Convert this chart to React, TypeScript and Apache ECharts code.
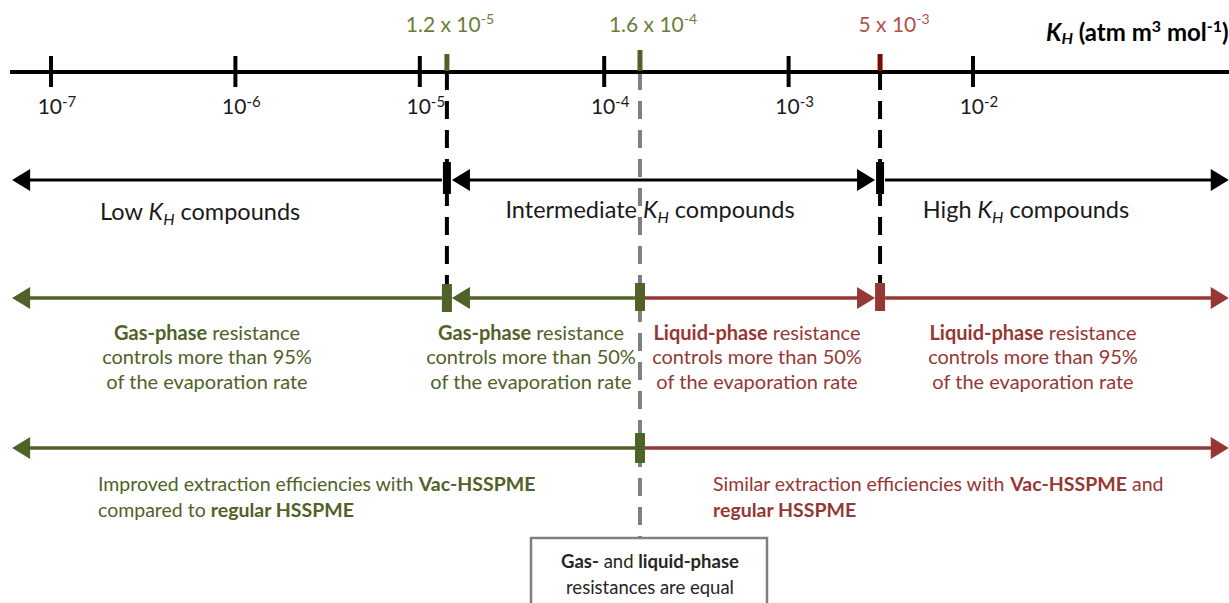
import { useEffect, useRef } from 'react';
import * as echarts from 'echarts';

// ---------- data ----------
// Decades of the Henry's law constant axis, K_H (atm m3 mol-1), as log10 exponents
const DECADE_EXPONENTS = [-7, -6, -5, -4, -3, -2];
// Threshold K_H values and their labels
const THRESHOLD_VALUES = [1.2e-5, 1.6e-4, 5e-3];
const THRESHOLD_LABELS = ['1.2 x 10{sup|-5}', '1.6 x 10{sup|-4}', '5 x 10{sup|-3}'];
// where each threshold is drawn on the (schematic) log10 axis of the original figure
const THRESHOLD_DRAWN_AT = [-4.853, -3.806, -2.504];
// extent of the drawn axis / arrows in log10 units
const VIEW_RANGE = [-7.2766, -0.6117];
const AXIS_LINE_START = -7.222;
const ARROW_LEFT_END = -7.211;
const ARROW_RIGHT_END = -0.613;

// ---------- styling ----------
const FONT = 'Lato, "Noto Sans", sans-serif';
const GREEN = '#4f6228';
const RED = '#953735';
const DARK_RED = '#7a0a0a';
const GRAY = '#7f7f7f';
const INK = '#1a1a1a';
const LABEL_GREEN = '#6b7c3a';
const LABEL_RED = '#b4504b';
const W = 1229;
const H = 603;
const ROW = { axis: 72, kh: 180, resistance: 298, extraction: 448 };
const BOX_TOP = 538;

const [T1, T2, T3] = THRESHOLD_DRAWN_AT;

type Seg = { from: number; to: number; y: number; color: string; headStart: boolean; headEnd: boolean; lw: number };
const SEGMENTS: Seg[] = [
  { from: ARROW_LEFT_END, to: T1, y: ROW.kh, color: '#000', headStart: true, headEnd: false, lw: 3 },
  { from: T1, to: T3, y: ROW.kh, color: '#000', headStart: true, headEnd: true, lw: 3 },
  { from: T3, to: ARROW_RIGHT_END, y: ROW.kh, color: '#000', headStart: false, headEnd: true, lw: 3 },
  { from: ARROW_LEFT_END, to: T1, y: ROW.resistance, color: GREEN, headStart: true, headEnd: false, lw: 3.5 },
  { from: T1, to: T2, y: ROW.resistance, color: GREEN, headStart: true, headEnd: false, lw: 3.5 },
  { from: T2, to: T3, y: ROW.resistance, color: RED, headStart: false, headEnd: true, lw: 3.5 },
  { from: T3, to: ARROW_RIGHT_END, y: ROW.resistance, color: RED, headStart: false, headEnd: true, lw: 3.5 },
  { from: ARROW_LEFT_END, to: T2, y: ROW.extraction, color: GREEN, headStart: true, headEnd: false, lw: 3.5 },
  { from: T2, to: ARROW_RIGHT_END, y: ROW.extraction, color: RED, headStart: false, headEnd: true, lw: 3.5 },
];

type Mark = { at: number; y: number; color: string; w: number; h: number };
const MARKERS: Mark[] = [
  { at: T1, y: ROW.kh - 2, color: '#000', w: 8, h: 32 },
  { at: T3, y: ROW.kh - 2, color: '#000', w: 8, h: 32 },
  { at: T1, y: ROW.resistance, color: GREEN, w: 10, h: 28 },
  { at: T2, y: ROW.resistance - 1, color: GREEN, w: 10, h: 28 },
  { at: T3, y: ROW.resistance - 1, color: RED, w: 10, h: 28 },
  { at: T2, y: ROW.extraction, color: GREEN, w: 10, h: 30 },
];

const GUIDE_COLORS = ['#000', GRAY, '#000'];
const GUIDE_END = [ROW.resistance, BOX_TOP, ROW.resistance];
const TICK_COLORS = [GREEN, GREEN, DARK_RED];
const TICK_TOP = [54, 50, 54];
const LABEL_COLORS = [LABEL_GREEN, LABEL_GREEN, LABEL_RED];
const LABEL_DX = [3, 13, 14];

function rich(size: number, color: string, supScale = 0.66) {
  const small = Math.round(size * 0.66);
  const supSize = Math.round(size * supScale);
  const supLH = Math.round(size * 0.55);
  const subLH = Math.round(size * 0.35);
  return {
    b: { fontFamily: FONT, fontSize: size, fontWeight: 'bold', fill: color },
    i: { fontFamily: FONT, fontSize: size, fontStyle: 'italic', fill: color },
    bi: { fontFamily: FONT, fontSize: size, fontStyle: 'italic', fontWeight: 'bold', fill: color },
    sub: { fontFamily: FONT, fontSize: small, fontStyle: 'italic', fill: color, verticalAlign: 'bottom', lineHeight: subLH },
    bsub: { fontFamily: FONT, fontSize: small, fontStyle: 'italic', fontWeight: 'bold', fill: color, verticalAlign: 'bottom', lineHeight: subLH },
    sup: { fontFamily: FONT, fontSize: supSize, fill: color, verticalAlign: 'top', lineHeight: supLH },
    bsup: { fontFamily: FONT, fontSize: supSize, fontWeight: 'bold', fill: color, verticalAlign: 'top', lineHeight: supLH },
  };
}

function txt(text: string, x: number, y: number, size: number, color: string, align: string, lineHeight: number, weight = 'normal') {
  return {
    type: 'text',
    x,
    y,
    z: 100,
    style: {
      text,
      fontFamily: FONT,
      fontSize: size,
      fontWeight: weight,
      fill: color,
      align,
      verticalAlign: 'middle',
      textAlign: align,
      textVerticalAlign: 'middle',
      lineHeight,
      rich: rich(size, color),
    },
  };
}

export default function App() {
  const ref = useRef<HTMLDivElement>(null);
  useEffect(() => {
    if (!ref.current) return;
    const chart = echarts.init(ref.current, undefined, { renderer: 'svg' });

    const guideSeries = {
      type: 'custom',
      z: 1,
      data: THRESHOLD_DRAWN_AT.map((v) => [v]),
      renderItem: (params: any, api: any) => {
        const i = params.dataIndex;
        const p0 = api.coord([api.value(0), ROW.axis]);
        const p1 = api.coord([api.value(0), GUIDE_END[i]]);
        return {
          type: 'line',
          shape: { x1: p0[0], y1: p0[1], x2: p1[0], y2: p1[1] },
          style: { stroke: GUIDE_COLORS[i], lineWidth: 4, lineDash: [18, 11] },
        };
      },
    };

    const axisSeries = {
      type: 'custom',
      z: 2,
      data: [[AXIS_LINE_START, ARROW_RIGHT_END]],
      renderItem: (params: any, api: any) => {
        const a = api.coord([api.value(0), ROW.axis]);
        const b = api.coord([api.value(1), ROW.axis]);
        return {
          type: 'line',
          shape: { x1: a[0], y1: a[1], x2: b[0] + 2, y2: b[1] },
          style: { stroke: '#000', lineWidth: 4 },
        };
      },
    };

    const decadeSeries = {
      type: 'custom',
      z: 3,
      data: DECADE_EXPONENTS.map((e) => [e]),
      renderItem: (params: any, api: any) => {
        const e = api.value(0);
        const p = api.coord([e, ROW.axis]);
        return {
          type: 'group',
          children: [
            { type: 'line', shape: { x1: p[0], y1: p[1] - 16, x2: p[0], y2: p[1] + 15 }, style: { stroke: '#000', lineWidth: 4 } },
            {
              type: 'text',
              x: p[0] + 6,
              y: p[1] + 33,
              style: {
                text: '10{sup|' + e + '}',
                fontFamily: FONT,
                fontSize: 21,
                fill: INK,
                align: 'center',
                verticalAlign: 'middle',
                lineHeight: 24,
                rich: rich(21, INK, 0.72),
              },
            },
          ],
        };
      },
    };

    const thresholdSeries = {
      type: 'custom',
      z: 4,
      data: THRESHOLD_DRAWN_AT.map((v, i) => [v, THRESHOLD_VALUES[i]]),
      renderItem: (params: any, api: any) => {
        const i = params.dataIndex;
        const p = api.coord([api.value(0), ROW.axis]);
        return {
          type: 'group',
          children: [
            { type: 'rect', shape: { x: p[0] - 2.5, y: TICK_TOP[i], width: 5, height: p[1] - TICK_TOP[i] - 1 }, style: { fill: TICK_COLORS[i] } },
            {
              type: 'text',
              x: p[0] + LABEL_DX[i],
              y: 23,
              style: {
                text: THRESHOLD_LABELS[i],
                fontFamily: FONT,
                fontSize: 21,
                fill: LABEL_COLORS[i],
                align: 'center',
                verticalAlign: 'middle',
                lineHeight: 24,
                rich: rich(21, LABEL_COLORS[i]),
              },
            },
          ],
        };
      },
    };

    const HEAD_L = 18;
    const HEAD_HW = 11;
    const segmentSeries = {
      type: 'custom',
      z: 5,
      data: SEGMENTS.map((s) => [s.from, s.to, s.y]),
      renderItem: (params: any, api: any) => {
        const s = SEGMENTS[params.dataIndex];
        const a = api.coord([api.value(0), api.value(2)]);
        const b = api.coord([api.value(1), api.value(2)]);
        const y = a[1];
        const gapA = s.from === ARROW_LEFT_END ? 0 : 5;
        const gapB = s.to === ARROW_RIGHT_END ? 0 : 5;
        let x1 = a[0] + gapA;
        let x2 = b[0] - gapB;
        const children: any[] = [];
        if (s.headStart) {
          children.push({
            type: 'polygon',
            shape: { points: [[x1, y], [x1 + HEAD_L, y - HEAD_HW], [x1 + HEAD_L, y + HEAD_HW]] },
            style: { fill: s.color },
          });
          x1 += HEAD_L - 1;
        }
        if (s.headEnd) {
          children.push({
            type: 'polygon',
            shape: { points: [[x2, y], [x2 - HEAD_L, y - HEAD_HW], [x2 - HEAD_L, y + HEAD_HW]] },
            style: { fill: s.color },
          });
          x2 -= HEAD_L - 1;
        }
        children.unshift({ type: 'line', shape: { x1, y1: y, x2, y2: y }, style: { stroke: s.color, lineWidth: s.lw } });
        return { type: 'group', children };
      },
    };

    const markerSeries = {
      type: 'custom',
      z: 6,
      data: MARKERS.map((m) => [m.at, m.y]),
      renderItem: (params: any, api: any) => {
        const m = MARKERS[params.dataIndex];
        const p = api.coord([api.value(0), api.value(1)]);
        return {
          type: 'rect',
          shape: { x: p[0] - m.w / 2, y: p[1] - m.h / 2, width: m.w, height: m.h },
          style: { fill: m.color },
        };
      },
    };

    const resText = (bold: string, pct: string) => '{b|' + bold + '} resistance\ncontrols more than ' + pct + '\nof the evaporation rate';

    const option: any = {
      animation: false,
      backgroundColor: '#fff',
      grid: { left: 0, right: 0, top: 0, bottom: 0 },
      xAxis: { type: 'value', min: VIEW_RANGE[0], max: VIEW_RANGE[1], show: false },
      yAxis: { type: 'value', min: 0, max: H, inverse: true, show: false },
      series: [guideSeries, axisSeries, decadeSeries, thresholdSeries, segmentSeries, markerSeries],
      graphic: [
        txt('{bi|K}{bsub|H} (atm m{bsup|3} mol{bsup|-1})', 1046, 31, 24, '#000', 'left', 28, 'bold'),
        txt('Low {i|K}{sub|H} compounds', 200, 211, 23.5, INK, 'center', 30),
        txt('Intermediate {i|K}{sub|H} compounds', 650, 209, 23.5, INK, 'center', 30),
        txt('High {i|K}{sub|H} compounds', 1026, 209, 23.5, INK, 'center', 30),
        txt(resText('Gas-phase', '95%'), 207, 356, 20, GREEN, 'center', 24.5),
        txt(resText('Gas-phase', '50%'), 531, 356, 20, GREEN, 'center', 24.5),
        txt(resText('Liquid-phase', '50%'), 757, 356, 20, RED, 'center', 24.5),
        txt(resText('Liquid-phase', '95%'), 1033, 356, 20, RED, 'center', 24.5),
        txt('Improved extraction efficiencies with {b|Vac-HSSPME}\ncompared to {b|regular HSSPME}', 98, 496, 19.5, GREEN, 'left', 26),
        txt('Similar extraction efficiencies with {b|Vac-HSSPME} and\n{b|regular HSSPME}', 713, 496, 19.5, RED, 'left', 26),
        {
          type: 'rect',
          z: 99,
          shape: { x: 531, y: BOX_TOP, width: 236, height: 90 },
          style: { fill: '#fff', stroke: GRAY, lineWidth: 2.5 },
        },
        txt('{b|Gas-} and {b|liquid-phase}\nresistances are equal', 650, 574, 18.5, '#262626', 'center', 26),
      ],
    };
    chart.setOption(option);
    return () => chart.dispose();
  }, []);
  return <div ref={ref} style={{ position: 'fixed', left: 0, top: 0, width: W, height: H, background: '#fff' }} />;
}
